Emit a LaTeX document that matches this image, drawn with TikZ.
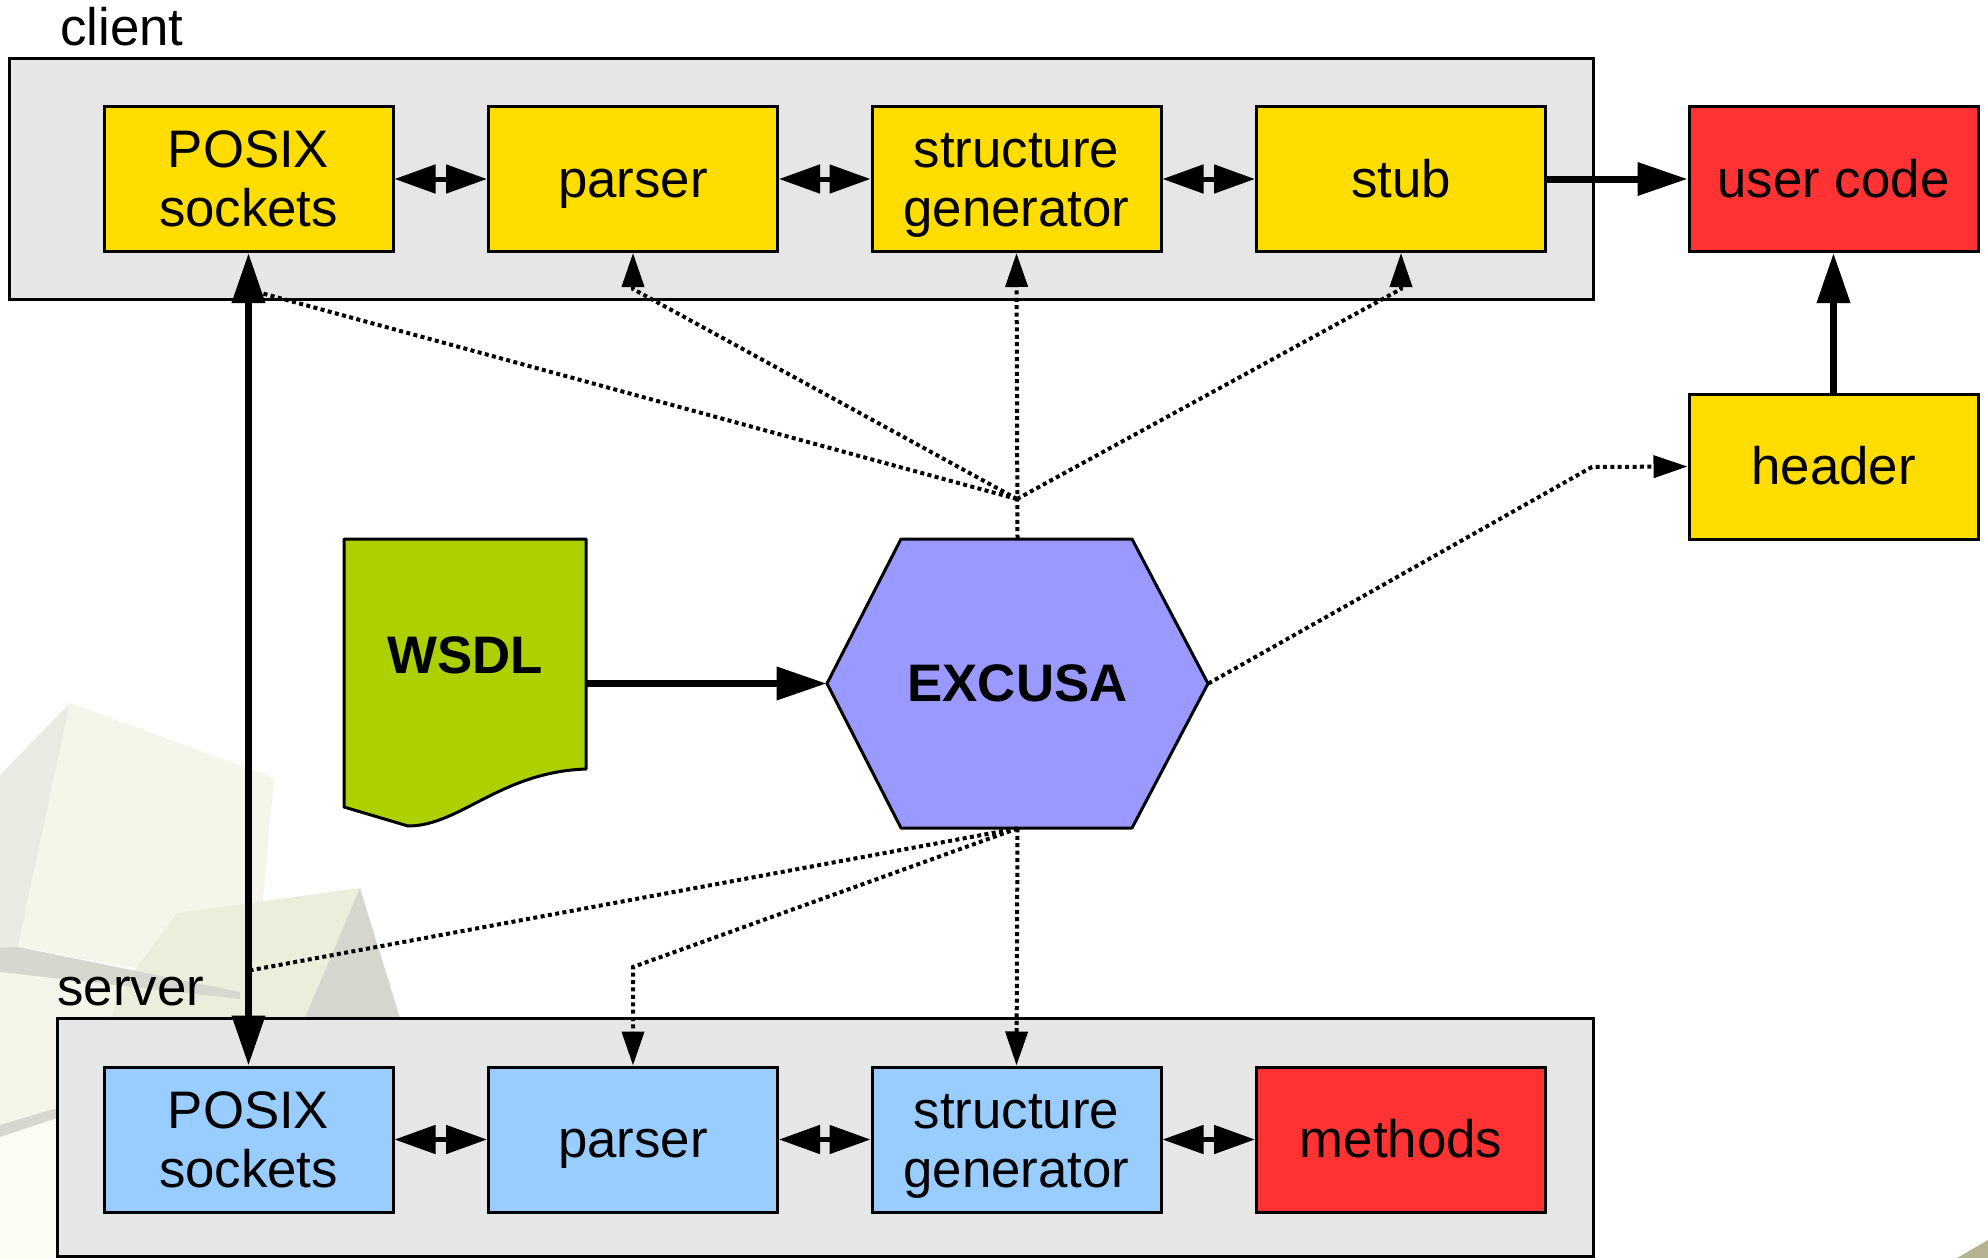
\documentclass[tikz,border=0pt]{standalone}
\usepackage{fontspec}
\setmainfont{Liberation Sans}
\usetikzlibrary{arrows.meta,calc}

\definecolor{boxyellow}{HTML}{FFDD00}
\definecolor{boxred}{HTML}{FF3333}
\definecolor{boxblue}{HTML}{99CCFF}
\definecolor{groupgray}{HTML}{E6E6E6}
\definecolor{docgreen}{HTML}{AECF00}
\definecolor{hexpurple}{HTML}{9999FF}
% faint background decoration
\definecolor{cubeA}{HTML}{F5F5EA}
\definecolor{cubeAside}{HTML}{EAEAE2}
\definecolor{cubeB}{HTML}{EDEDDC}
\definecolor{cubeBside}{HTML}{D6D6CE}
\definecolor{cubeshade}{HTML}{D7D7D0}
\definecolor{cream}{HTML}{F4F4E8}
\definecolor{paleyellow}{HTML}{FDFDF3}
\definecolor{khaki}{HTML}{B5B290}

\newcommand\boxfont{\fontsize{26.4pt}{29.5pt}\selectfont}
% strut with the full ascent and descent of the font
\newcommand\ms{\rule[-0.212em]{0pt}{1.117em}}

\begin{document}
\begin{tikzpicture}[x=0.5pt,y=-0.5pt,
  box/.style={draw, line width=1.5pt, minimum width=144.5pt, minimum height=72.5pt,
    inner sep=0pt, font=\boxfont, align=center},
  group/.style={draw, line width=1.5pt, fill=groupgray},
  grouplabel/.style={anchor=base west, inner sep=0pt, font=\boxfont},
  thickarrow/.style={line width=3.5pt, -{Triangle[length=25pt,width=16pt]}},
  thickboth/.style={line width=3.5pt, {Triangle[length=25pt,width=16pt]}-{Triangle[length=25pt,width=16pt]}},
  linkboth/.style={line width=2.5pt, {Triangle[length=20.5pt,width=14pt]}-{Triangle[length=20.5pt,width=14pt]}},
  dotline/.style={line width=2pt, dash pattern=on 2pt off 1.7pt},
  dotarrow/.style={dotline, -{Triangle[length=17pt,width=11pt]}}]

\useasboundingbox (0,0) rectangle (1988,1258);
\fill[white] (0,0) rectangle (1988,1258);

% background cubes, lower left
\fill[cream] (0,960) -- (250,995) -- (300,1018) -- (57,1018) -- (57,1258) -- (0,1258) -- cycle;
\fill[paleyellow] (0,1135) -- (57,1118) -- (57,1258) -- (0,1258) -- cycle;
\fill[cubeshade] (0,1125) -- (57,1108) -- (57,1118) -- (0,1137) -- cycle;
\fill[cubeAside] (0,775) -- (5,770) -- (70,703) -- (18,947) -- (0,950) -- cycle;
\fill[cubeA] (70,703) -- (274,778) -- (255,990) -- (18,947) -- cycle;
\fill[cubeB] (177,913) -- (360,888) -- (310,1018) -- (110,1018) -- (133,973) -- cycle;
\fill[cubeBside] (360,888) -- (400,1018) -- (305,1018) -- cycle;
\fill[cubeshade] (0,948) -- (18,947) -- (240,992) -- (240,999) -- (0,972) -- cycle;
% corner of another cube, lower right
\fill[khaki] (1957,1258) -- (1988,1240) -- (1988,1258) -- cycle;

% client and server groups
\draw[group] (9,58) rectangle (1593,299);
\node[grouplabel] (clientlabel) at (60,46) {client};
\draw[group] (57,1018) rectangle (1593,1256);
\node[grouplabel] (serverlabel) at (57,1005) {server};

% client side
\node[box, fill=boxyellow] (cposix)  at (248.5,179)  {\ms POSIX\\\ms sockets};
\node[box, fill=boxyellow] (cparser) at (633,179)    {\ms parser};
\node[box, fill=boxyellow] (cstruct) at (1016.5,179) {\ms structure\\\ms generator};
\node[box, fill=boxyellow] (cstub)   at (1401,179)   {\ms stub};
\node[box, fill=boxred]    (usercode) at (1833.5,179) {\ms user code};
\node[box, fill=boxyellow] (header)  at (1833.5,466.5) {\ms header};

% server side
\node[box, fill=boxblue] (sposix)  at (248.5,1139.5)  {\ms POSIX\\\ms sockets};
\node[box, fill=boxblue] (sparser) at (633,1139.5)    {\ms parser};
\node[box, fill=boxblue] (sstruct) at (1016.5,1139.5) {\ms structure\\\ms generator};
\node[box, fill=boxred]  (methods) at (1401,1139.5)   {\ms methods};

% WSDL document
\node[minimum width=121pt, minimum height=145.5pt, inner sep=0pt] (wsdl) at (465,683.5) {};
\draw[line width=1.5pt, fill=docgreen, line join=round]
  (344,539) -- (586,539) -- (586,769)
  .. controls (500,772) and (460,826) .. (408,826) -- (344,807) -- cycle;
\node[anchor=base, inner sep=0pt, font=\boxfont\bfseries] (wsdllabel) at (465,673) {WSDL};

% EXCUSA generator
\draw[line width=1.5pt, fill=hexpurple, line join=round]
  (827,683.5) -- (901,539) -- (1132,539) -- (1208,683.5) -- (1132,828) -- (901,828) -- cycle;
\node[minimum width=190.5pt, minimum height=144.5pt, inner sep=0pt, font=\boxfont\bfseries]
  (excusa) at (1017.5,683.5) {\ms EXCUSA};

% bend points of the generated-code links
\coordinate (hub)     at (1017,499);
\coordinate (cpbend)  at (633,289);
\coordinate (csbend)  at (1401,289);
\coordinate (cptap)   at (250,290);
\coordinate (sptap)   at (252,970);
\coordinate (spbend)  at (633,967);
\coordinate (hdbend)  at (1592,467);

% generated-code links (dotted)
\draw[dotarrow] (excusa.north) -- (cstruct.south);
\draw[dotarrow] (hub) -- (cpbend) -- (cparser.south);
\draw[dotarrow] (hub) -- (csbend) -- (cstub.south);
\draw[dotline]  (hub) -- (cptap);
\draw[dotline]  (excusa.south) -- (sptap);
\draw[dotarrow] (excusa.south) -- (spbend) -- (sparser.north);
\draw[dotarrow] (excusa.south) -- (sstruct.north);
\draw[dotarrow] (excusa.east) -- (hdbend) -- (header.west);

% data flow inside the groups
\draw[linkboth] (cposix.east)  -- (cparser.west);
\draw[linkboth] (cparser.east) -- (cstruct.west);
\draw[linkboth] (cstruct.east) -- (cstub.west);
\draw[linkboth] (sposix.east)  -- (sparser.west);
\draw[linkboth] (sparser.east) -- (sstruct.west);
\draw[linkboth] (sstruct.east) -- (methods.west);

% main arrows
\draw[thickarrow] (cstub.east) -- (usercode.west);
\draw[thickarrow] (header.north) -- (usercode.south);
\draw[thickarrow] (wsdl.east) -- (excusa.west);
\draw[thickboth] (cposix.south) -- (sposix.north);

\end{tikzpicture}
\end{document}
